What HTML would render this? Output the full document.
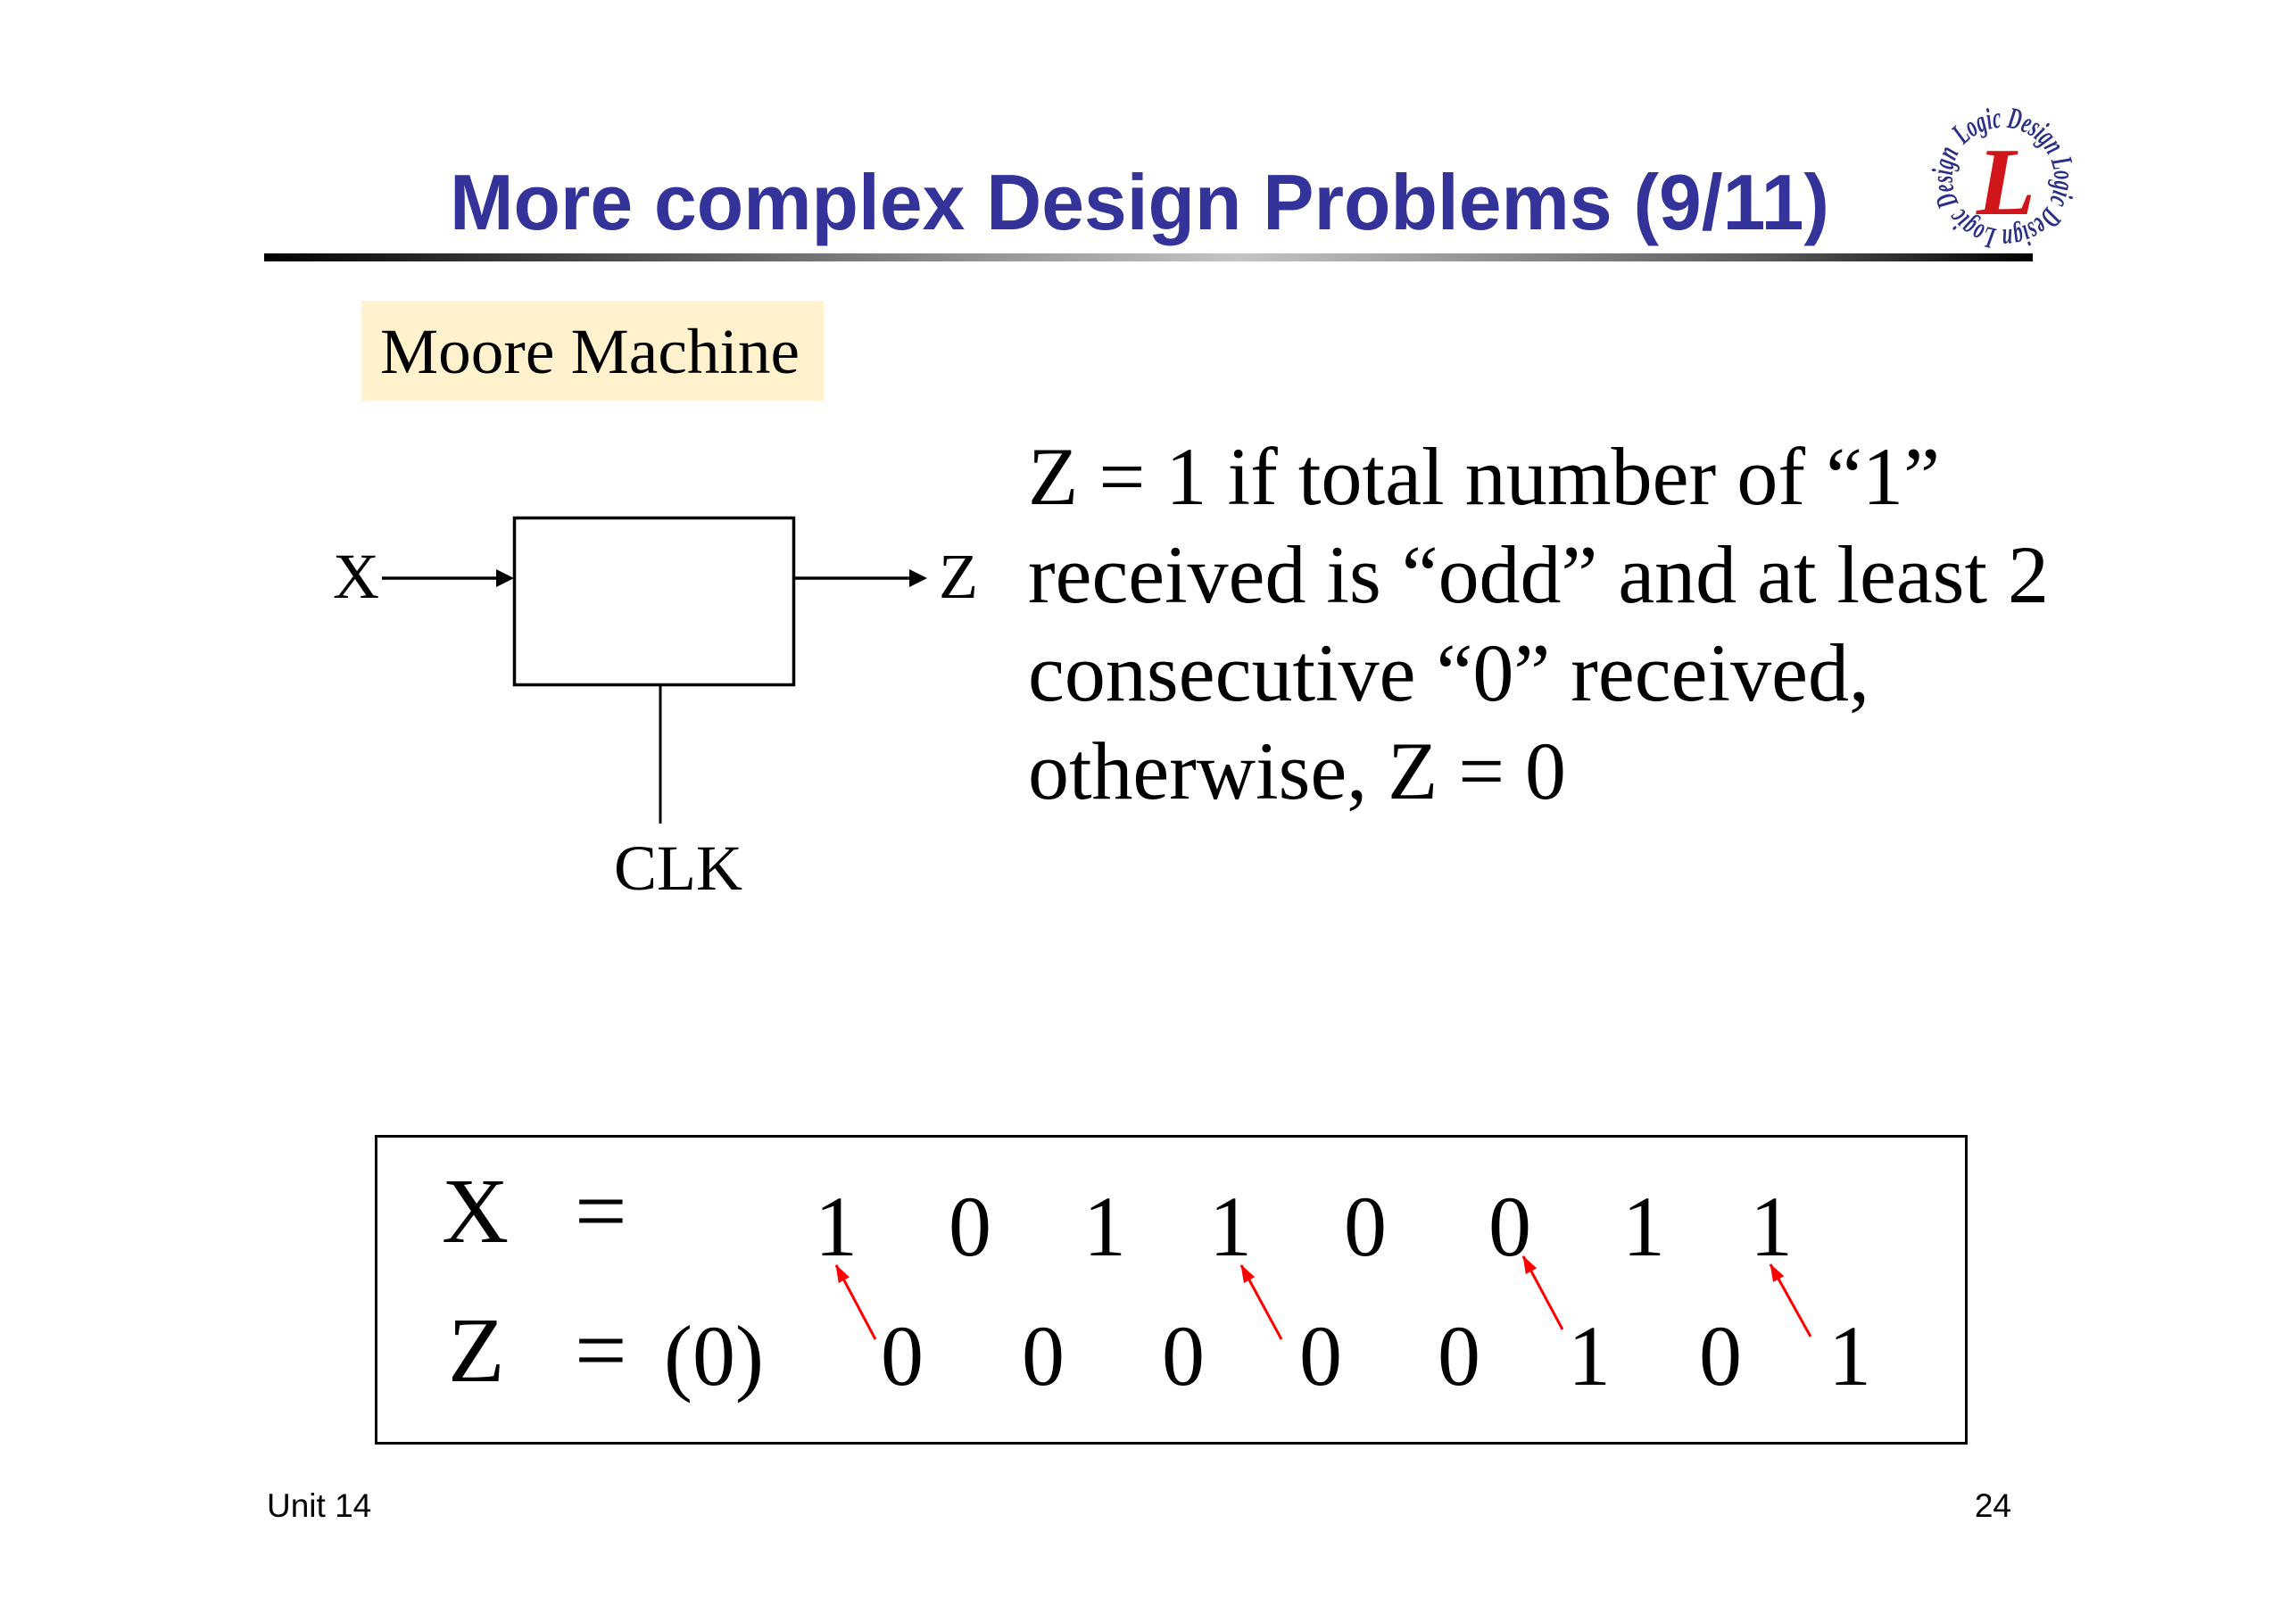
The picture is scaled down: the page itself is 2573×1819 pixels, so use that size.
<!DOCTYPE html>
<html>
<head>
<meta charset="utf-8">
<style>
  html, body { margin:0; padding:0; background:#ffffff; }
  body { width:2573px; height:1819px; overflow:hidden; }
  svg { display:block; }
  .serif { font-family:"Liberation Serif", "Times New Roman", serif; }
  .sans { font-family:"Liberation Sans", Arial, sans-serif; }
</style>
</head>
<body>
<svg width="2573" height="1819" viewBox="0 0 2573 1819" xmlns="http://www.w3.org/2000/svg">
  <defs>
    <linearGradient id="rule" x1="0" y1="0" x2="1" y2="0">
      <stop offset="0" stop-color="#000000"/>
      <stop offset="0.12" stop-color="#333333"/>
      <stop offset="0.55" stop-color="#c4c4c4"/>
      <stop offset="0.85" stop-color="#5a5a5a"/>
      <stop offset="1" stop-color="#000000"/>
    </linearGradient>
    <marker id="rh" viewBox="0 0 20 14" refX="19" refY="7" markerWidth="20" markerHeight="14" markerUnits="userSpaceOnUse" orient="auto">
      <path d="M0,0 L20,7 L0,14 z" fill="#ff0000"/>
    </marker>
    <path id="ring" d="M2200.6,162.7 A58,58 0 0,1 2289.4,237.3 A58,58 0 0,1 2200.6,162.7"/>
  </defs>

  <rect x="0" y="0" width="2573" height="1819" fill="#ffffff"/>

  <!-- Title -->
  <text class="sans" x="504" y="257" font-size="88" font-weight="bold" fill="#333399" textLength="1546" lengthAdjust="spacingAndGlyphs">More complex Design Problems (9/11)</text>

  <!-- Rule -->
  <rect x="296" y="284" width="1982" height="9" fill="url(#rule)"/>

  <!-- Logo -->
  <g>
    <text class="serif" font-size="34" font-style="italic" font-weight="bold" fill="#2b2f86">
      <textPath href="#ring" textLength="350" lengthAdjust="spacingAndGlyphs">Logic Design Logic Design Logic Design</textPath>
    </text>
    <text class="serif" x="2248" y="240" font-size="108" font-style="italic" font-weight="bold" fill="#d0161a" text-anchor="middle">L</text>
  </g>

  <!-- Moore Machine label -->
  <rect x="405" y="337" width="518" height="112" fill="#fff2cc"/>
  <text class="serif" x="426" y="418" font-size="72" fill="#000" textLength="470" lengthAdjust="spacingAndGlyphs">Moore Machine</text>

  <!-- Block diagram -->
  <rect x="576.5" y="580.5" width="313" height="187" fill="none" stroke="#000" stroke-width="3.5"/>
  <line x1="428" y1="648" x2="558" y2="648" stroke="#000" stroke-width="3.5"/>
  <polygon points="576,648 556,638 556,658" fill="#000"/>
  <line x1="890" y1="648" x2="1020" y2="648" stroke="#000" stroke-width="3.5"/>
  <polygon points="1039,648 1019,638 1019,658" fill="#000"/>
  <line x1="740" y1="768" x2="740" y2="923" stroke="#000" stroke-width="3"/>
  <text class="serif" x="373" y="670" font-size="72" fill="#000">X</text>
  <text class="serif" x="1052" y="670" font-size="72" fill="#000">Z</text>
  <text class="serif" x="688" y="997" font-size="72" fill="#000">CLK</text>

  <!-- Description text -->
  <g class="serif" font-size="92" fill="#000">
    <text x="1152" y="565" textLength="1022" lengthAdjust="spacingAndGlyphs">Z = 1 if total number of “1”</text>
    <text x="1152" y="675" textLength="1144" lengthAdjust="spacingAndGlyphs">received is “odd” and at least 2</text>
    <text x="1152" y="785" textLength="943" lengthAdjust="spacingAndGlyphs">consecutive “0” received,</text>
    <text x="1152" y="895" textLength="603" lengthAdjust="spacingAndGlyphs">otherwise, Z = 0</text>
  </g>

  <!-- Sequence box -->
  <rect x="421.5" y="1273.5" width="1782" height="344" fill="none" stroke="#000" stroke-width="3"/>
  <g class="serif" fill="#000">
    <text x="495" y="1392" font-size="104">X</text>
    <text x="644" y="1392" font-size="104">=</text>
    <text x="502" y="1548" font-size="104">Z</text>
    <text x="644" y="1548" font-size="104">=</text>
    <text x="800" y="1552" font-size="96" text-anchor="middle">(0)</text>
  </g>
  <g class="serif" font-size="96" fill="#000" text-anchor="middle">
    <text x="937" y="1407">1</text>
    <text x="1087" y="1407">0</text>
    <text x="1238" y="1407">1</text>
    <text x="1379" y="1407">1</text>
    <text x="1530" y="1407">0</text>
    <text x="1692" y="1407">0</text>
    <text x="1842" y="1407">1</text>
    <text x="1985" y="1407">1</text>

    <text x="1011" y="1552">0</text>
    <text x="1169" y="1552">0</text>
    <text x="1326" y="1552">0</text>
    <text x="1480" y="1552">0</text>
    <text x="1635" y="1552">0</text>
    <text x="1781" y="1552">1</text>
    <text x="1928" y="1552">0</text>
    <text x="2073" y="1552">1</text>
  </g>

  <!-- Red arrows -->
  <g stroke="#ff0000" stroke-width="3" fill="none">
    <line x1="981" y1="1501" x2="937" y2="1418" marker-end="url(#rh)"/>
    <line x1="1436" y1="1501" x2="1391" y2="1418" marker-end="url(#rh)"/>
    <line x1="1751" y1="1490" x2="1707" y2="1408" marker-end="url(#rh)"/>
    <line x1="2029" y1="1498" x2="1984" y2="1417" marker-end="url(#rh)"/>
  </g>

  <!-- Footer -->
  <text class="sans" x="299" y="1700" font-size="37" fill="#000">Unit 14</text>
  <text class="sans" x="2254" y="1700" font-size="37" fill="#000" text-anchor="end">24</text>
</svg>
</body>
</html>
